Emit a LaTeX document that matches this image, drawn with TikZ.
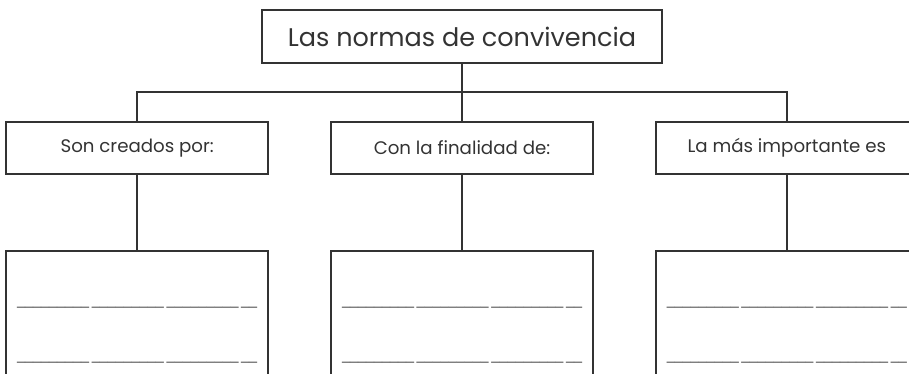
\documentclass[tikz,border=0pt]{standalone}
\usepackage{fontspec}
\setmainfont{Poppins}
\newfontfamily\rulefont{DejaVu Sans}
\usetikzlibrary{positioning}
\newcommand{\blankline}{\rulefont\_\_\_\_\_\_\_\_\_\,\_\_\_\_\_\_\_\_\_\,\_\_\_\_\_\_\_\_\_\,\_\_}
\begin{document}
\begin{tikzpicture}[x=1pt, y=-1pt, line width=1.8pt]
\definecolor{ink}{HTML}{333333}
\tikzset{
  topbox/.style = {draw = ink, text = ink, minimum width = 400pt, minimum height = 53pt, inner sep = 0pt, font = \fontsize{25.5}{30}\selectfont},
  headbox/.style = {draw = ink, text = ink, minimum width = 262pt, minimum height = 52pt, inner sep = 0pt, font = \fontsize{18.2}{22}\selectfont},
  fillbox/.style = {draw = ink, minimum width = 262pt, minimum height = 180pt, inner sep = 0pt, anchor = north},
  blank/.style = {text = ink!80, inner sep = 0pt, font = \fontsize{16}{20}\selectfont}
}
\clip (0, 0) rectangle (909, 373);
% title
\node[topbox] (top) at (462, 36.5) {Las normas de convivencia};
% second row
\node[headbox, below = 57pt of top] (head2) {Con la finalidad de:};
\node[headbox, left = 61pt of head2] (head1) {Son creados por:};
\node[headbox, right = 61pt of head2] (head3) {La más importante es};
% answer boxes
\node[fillbox, below = 75pt of head1] (fill1) {};
\node[fillbox, below = 75pt of head2] (fill2) {};
\node[fillbox, below = 75pt of head3] (fill3) {};
% writing lines
\foreach \k in {1, 2, 3} {
  \node[blank, anchor = base] (lineA\k) at ([yshift = -55pt] fill\k.north) {\blankline};
  \node[blank, anchor = base] (lineB\k) at ([yshift = -110pt] fill\k.north) {\blankline};
}
% connectors
\coordinate (bus) at (462, 92);
\draw[ink] (top.south) -- (bus);
\draw[ink] (head1.north) |- (bus) -| (head3.north);
\draw[ink] (bus) -- (head2.north);
\foreach \k in {1, 2, 3}
  \draw[ink] (head\k.south) -- (fill\k.north);
\end{tikzpicture}
\end{document}
